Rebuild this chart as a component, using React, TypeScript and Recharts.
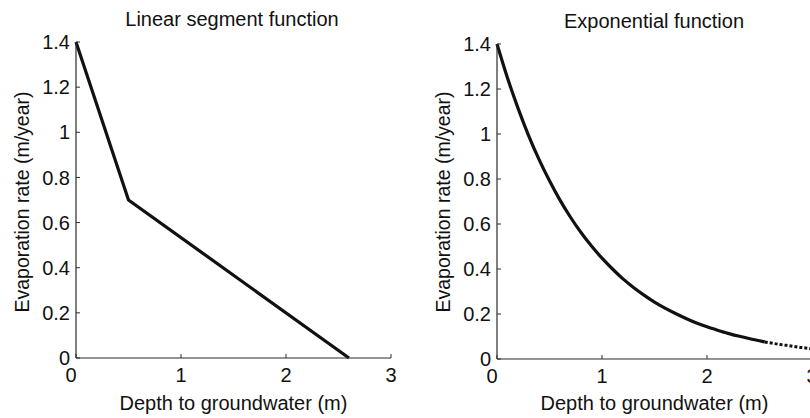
import React from "react";
import { Label, Line, LineChart, XAxis, YAxis } from "recharts";

const FONT = '"Liberation Sans", Arial, Helvetica, sans-serif';
const INK = "#111";
const AXIS = "#2a2a2a";

// left panel: piecewise linear
const linearDepth = [0, 0.5, 2.6];
const linearRate = [1.4, 0.7, 0];

// right panel: exponential, solid part
const expDepth = [
  0, 0.1, 0.2, 0.3, 0.4, 0.5, 0.6, 0.7, 0.8, 0.9, 1.0, 1.1, 1.2, 1.3, 1.4,
  1.5, 1.6, 1.7, 1.8, 1.9, 2.0, 2.1, 2.2, 2.3, 2.4, 2.5, 2.55,
];
const expRate = [
  1.4, 1.249, 1.115, 0.994, 0.887, 0.792, 0.706, 0.63, 0.562, 0.502, 0.448,
  0.4, 0.356, 0.318, 0.284, 0.253, 0.226, 0.202, 0.18, 0.16, 0.143, 0.128,
  0.114, 0.102, 0.091, 0.081, 0.076,
];

// right panel: dotted tail
const tailDepth = [2.55, 2.6, 2.7, 2.8, 2.9, 3.0];
const tailRate = [0.076, 0.072, 0.064, 0.058, 0.051, 0.046];

const xTicks = [0, 1, 2, 3];
const yTicks = [0, 0.2, 0.4, 0.6, 0.8, 1, 1.2, 1.4];

const titles = ["Linear segment function", "Exponential function"];
const xTitle = "Depth to groundwater (m)";
const yTitle = "Evaporation rate (m/year)";

const zip = (xs: number[], ys: number[]) => xs.map((d, i) => ({ depth: d, rate: ys[i] }));

const linearData = zip(linearDepth, linearRate);
const expData = zip(expDepth, expRate);
const tailData = zip(tailDepth, tailRate);

const XTick = (props: any) => {
  const { x, y, payload } = props;
  // the origin label sits a little left of its tick, as in the source figure
  const dx = payload.value === 0 ? -5 : 0;
  return (
    <g>
      <line x1={x} x2={x} y1={y} y2={y - 4} stroke={AXIS} strokeWidth={1} />
      <text x={x + dx} y={y + 24} textAnchor="middle" fontSize={20} fontFamily={FONT} fill={INK}>
        {String(payload.value)}
      </text>
    </g>
  );
};

const makeYTick = (gap: number) => (props: any) => {
  const { x, y, payload } = props;
  return (
    <g>
      <line x1={x} x2={x + 4} y1={y} y2={y} stroke={AXIS} strokeWidth={1} />
      <text x={x - gap} y={y} dy="0.36em" textAnchor="end" fontSize={20} fontFamily={FONT} fill={INK}>
        {String(payload.value)}
      </text>
    </g>
  );
};

const makeXLabel = (dy: number) => (props: any) => {
  const vb = props.viewBox;
  return (
    <text
      x={vb.x + vb.width / 2}
      y={vb.y + dy}
      textAnchor="middle"
      fontSize={20}
      fontFamily={FONT}
      fill={INK}
    >
      {xTitle}
    </text>
  );
};

const makeYLabel = (bx: number, cy: number) => () => (
  <text
    x={bx}
    y={cy}
    transform={`rotate(-90, ${bx}, ${cy})`}
    textAnchor="middle"
    fontSize={19.5}
    fontFamily={FONT}
    fill={INK}
  >
    {yTitle}
  </text>
);

function Title({ text, left, top }: { text: string; left: number; top: number }) {
  return (
    <div
      style={{
        position: "absolute",
        left: left - 200,
        top,
        width: 400,
        textAlign: "center",
        fontSize: 20,
        lineHeight: "20px",
        fontFamily: FONT,
        color: INK,
        whiteSpace: "nowrap",
      }}
    >
      {text}
    </div>
  );
}

export default function App() {
  return (
    <div
      style={{
        position: "absolute",
        left: 0,
        top: 0,
        width: 810,
        height: 418,
        overflow: "hidden",
        background: "#fff",
      }}
    >
      <div style={{ position: "absolute", left: 0, top: 0 }}>
        <LineChart width={410} height={418} margin={{ top: 42, right: 19, bottom: 0, left: 0 }}>
          <XAxis
            type="number"
            dataKey="depth"
            domain={[0, 3]}
            ticks={xTicks}
            height={60}
            tickSize={0}
            tickMargin={0}
            tick={<XTick />}
            axisLine={{ stroke: AXIS, strokeWidth: 1.2 }}
            tickLine={false}
          >
            <Label content={makeXLabel(52)} />
          </XAxis>
          <YAxis
            type="number"
            domain={[0, 1.4]}
            ticks={yTicks}
            width={76}
            tickSize={0}
            tickMargin={0}
            tick={makeYTick(6)}
            axisLine={{ stroke: AXIS, strokeWidth: 1.2 }}
            tickLine={false}
          >
            <Label content={makeYLabel(29, 202)} />
          </YAxis>
          <Line
            data={linearData}
            dataKey="rate"
            type="linear"
            stroke={INK}
            strokeWidth={3.2}
            dot={false}
            activeDot={false}
            isAnimationActive={false}
          />
        </LineChart>
      </div>
      <div style={{ position: "absolute", left: 410, top: 0 }}>
        <LineChart width={410} height={418} margin={{ top: 44, right: 8, bottom: 0, left: 0 }}>
          <XAxis
            type="number"
            dataKey="depth"
            domain={[0, 3]}
            ticks={xTicks}
            height={59}
            tickSize={0}
            tickMargin={0}
            tick={<XTick />}
            axisLine={{ stroke: AXIS, strokeWidth: 1.2 }}
            tickLine={false}
          >
            <Label content={makeXLabel(51)} />
          </XAxis>
          <YAxis
            type="number"
            domain={[0, 1.4]}
            ticks={yTicks}
            width={87}
            tickSize={0}
            tickMargin={0}
            tick={makeYTick(6)}
            axisLine={{ stroke: AXIS, strokeWidth: 1.2 }}
            tickLine={false}
          >
            <Label content={makeYLabel(40, 202)} />
          </YAxis>
          <Line
            data={expData}
            dataKey="rate"
            type="monotone"
            stroke={INK}
            strokeWidth={3.2}
            dot={false}
            activeDot={false}
            isAnimationActive={false}
          />
          <Line
            data={tailData}
            dataKey="rate"
            type="monotone"
            stroke={INK}
            strokeWidth={3}
            strokeDasharray="3 2"
            dot={false}
            activeDot={false}
            isAnimationActive={false}
          />
        </LineChart>
      </div>
      <Title text={titles[0]} left={232} top={9} />
      <Title text={titles[1]} left={654} top={11} />
    </div>
  );
}
